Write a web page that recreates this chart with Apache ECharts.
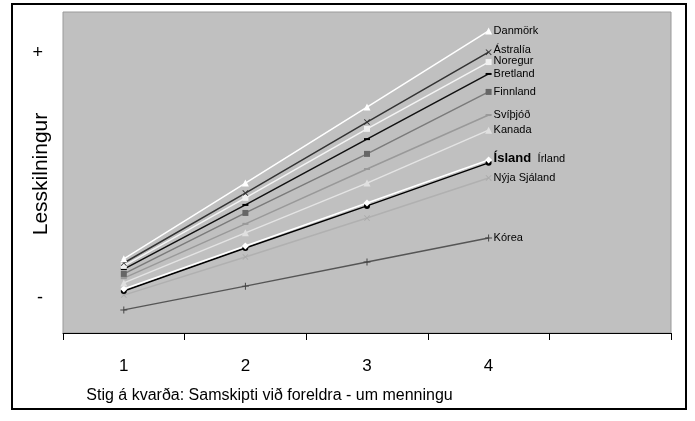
<!DOCTYPE html>
<html>
<head>
<meta charset="utf-8">
<script src="https://cdn.jsdelivr.net/npm/echarts@6/dist/echarts.min.js"></script>
<style>html,body{margin:0;padding:0;background:#fff}#c{width:695px;height:421px}</style>
</head>
<body>
<div id="c"></div>
<script>
// Categories (x axis: scale level); last slot is empty
const categories = ['1', '2', '3', '4', ''];
// Reading score, arbitrary units (0 = bottom of plot, 100 = top)
const danmork   = [23.1, 46.7, 70.4, 94.1];
const astralia  = [21.8, 43.6, 65.7, 87.5];
const noregur   = [20.9, 42.1, 63.6, 84.4];
const bretland  = [19.9, 39.9, 60.4, 80.7];
const finnland  = [18.4, 37.4, 55.8, 75.1];
const svithjod  = [17.1, 34.0, 51.1, 67.9];
const kanada    = [15.6, 31.2, 46.7, 63.2];
const irland    = [13.7, 27.1, 40.5, 53.9];
const island    = [13.1, 26.5, 39.6, 53.0];
const nyjaSjal  = [11.8, 23.7, 35.8, 48.3];
const korea     = [7.2, 14.6, 22.1, 29.6];
// y tick labels
const yTickValues = [87.2, 11.0];
const yTickLabels = ['+', '-'];

const FONT = 'Liberation Sans, Arial, sans-serif';
const X_SYM = 'path://M0,1L1,0L5,4L9,0L10,1L6,5L10,9L9,10L5,6L1,10L0,9L4,5Z';
const PLUS_SYM = 'path://M4.3,0H5.7V4.3H10V5.7H5.7V10H4.3V5.7H0V4.3H4.3Z';

function mk(name, data, lineColor, symbol, symColor, symSize, extra) {
  const s = {
    name: name, type: 'line', data: data,
    symbol: symbol, symbolSize: symSize,
    showAllSymbol: true,
    lineStyle: {color: lineColor, width: 1.5},
    itemStyle: {color: symColor, borderColor: symColor, borderWidth: 0},
    emphasis: {disabled: true},
    animation: false,
    endLabel: {show: true, formatter: '{a}', distance: 5, color: '#000',
      fontFamily: FONT, fontSize: 11}
  };
  if (extra) Object.assign(s.endLabel, extra);
  return s;
}

const chart = echarts.init(document.getElementById('c'), null, {renderer: 'canvas'});
chart.setOption({
  animation: false,
  grid: {left: 63, right: 24, top: 12, bottom: 88, show: true,
    backgroundColor: '#c0c0c0', borderColor: '#9a9a9a', borderWidth: 1},
  graphic: [
    {type: 'rect', shape: {x: 12, y: 4, width: 674, height: 405},
     style: {fill: 'none', stroke: '#000', lineWidth: 2}, z: 100},
    {type: 'text', x: 41, y: 174, rotation: Math.PI / 2,
     style: {text: 'Lesskilningur', fill: '#000', font: '21px ' + FONT,
       align: 'center', verticalAlign: 'middle'}}
  ],
  xAxis: {
    type: 'category', data: categories, boundaryGap: true,
    axisLine: {lineStyle: {color: '#000', width: 1}},
    axisTick: {show: true, length: 7, lineStyle: {color: '#000'}},
    axisLabel: {color: '#000', fontSize: 17, margin: 25, fontFamily: FONT},
    splitLine: {show: false},
    name: 'Stig á kvarða: Samskipti við foreldra - um menningu',
    nameLocation: 'middle', nameGap: 55,
    nameTextStyle: {color: '#000', fontSize: 16, padding: [0, 195, 0, 0],
      fontFamily: FONT}
  },
  yAxis: {
    type: 'value', min: 0, max: 100,
    axisLine: {show: false}, axisTick: {show: false},
    splitLine: {show: false},
    axisLabel: {customValues: yTickValues, color: '#000', fontSize: 18, margin: 20,
      fontFamily: FONT,
      formatter: function (v) { return yTickLabels[yTickValues.indexOf(v)]; }}
  },
  series: [
    mk('Kórea', korea, '#555555', PLUS_SYM, '#444444', 7),
    mk('Nýja Sjáland', nyjaSjal, '#b0b0b0', X_SYM, '#aaaaaa', 6),
    mk('Ísland', island, '#000000', 'circle', '#000000', 6,
      {fontWeight: 'bold', fontSize: 13, offset: [0, -4]}),
    mk('Írland', irland, '#ffffff', 'diamond', '#ffffff', 7,
      {offset: [44, -1]}),
    mk('Kanada', kanada, '#e4e4e4', 'triangle', '#e0e0e0', 7),
    mk('Svíþjóð', svithjod, '#999999', 'rect', '#999999', [6, 2]),
    mk('Finnland', finnland, '#7a7a7a', 'rect', '#666666', 6),
    mk('Bretland', bretland, '#111111', 'rect', '#000000', [6, 2]),
    mk('Noregur', noregur, '#f4f4f4', 'rect', '#f0f0f0', 6, {offset: [0, -1]}),
    mk('Ástralía', astralia, '#333333', X_SYM, '#333333', 6, {offset: [0, -2]}),
    mk('Danmörk', danmork, '#ffffff', 'triangle', '#ffffff', 7)
  ]
});
</script>
</body>
</html>
